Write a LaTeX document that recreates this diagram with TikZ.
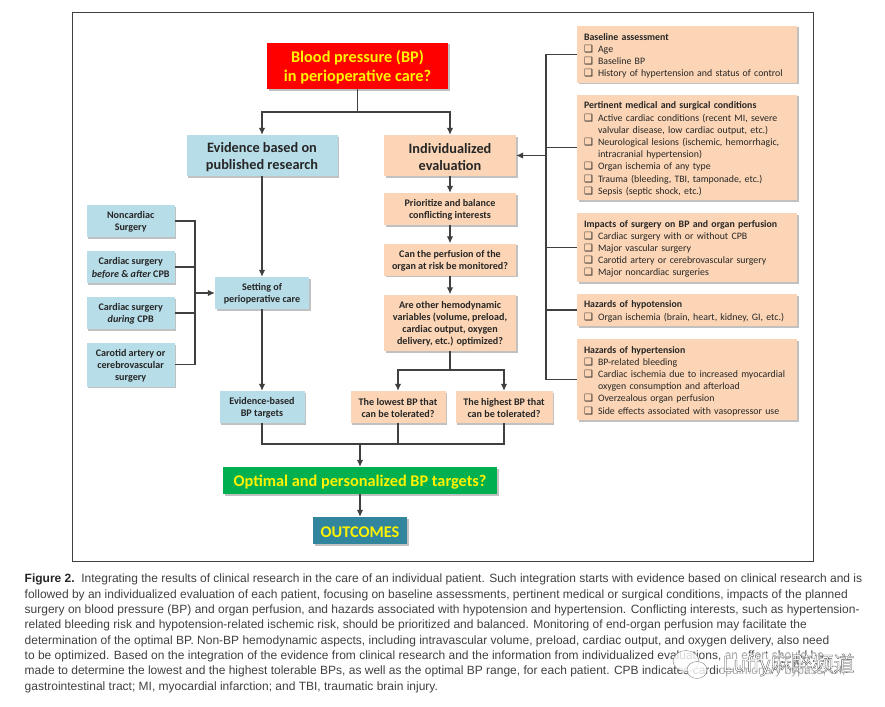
\documentclass[tikz,border=0pt]{standalone}
\usepackage{fontspec}
\setmainfont{Carlito}
\newfontfamily\notefont{Liberation Sans}
\newfontfamily\boxfont{DejaVu Sans}
\newfontfamily\cjkfont{Noto Sans CJK SC}
\usetikzlibrary{shadows,arrows.meta}
\definecolor{paleblue}{HTML}{B7DDE8}
\definecolor{paleorange}{HTML}{FBD5B5}
\definecolor{linegrey}{HTML}{404040}
\definecolor{inkgrey}{HTML}{262626}
\definecolor{leafgreen}{HTML}{00B050}
\definecolor{tealbox}{HTML}{31859C}
\newcommand{\itm}[1]{\makebox[14pt][l]{{\boxfont\fontsize{10}{12}\selectfont ❑}}#1}
\newcommand{\cnt}[1]{\makebox[14pt][l]{}#1}
\tikzset{
  box/.style={align=flush center,inner sep=0pt,text=inkgrey,
    execute at begin node={\rule{0pt}{.9em}},
    drop shadow={shadow xshift=1.5pt,shadow yshift=-1.5pt,opacity=.35,fill=black!70}},
  boxw/.style={minimum width=#1,text width=#1},
  bluebox/.style={box,fill=paleblue},
  orangebox/.style={box,fill=paleorange},
  smalltxt/.style={font=\bfseries\fontsize{10.1}{12.2}\selectfont},
  bigtxt/.style={font=\bfseries\fontsize{14.3}{17}\selectfont},
  yellowtxt/.style={text=yellow,font=\bfseries\fontsize{16.3}{19.5}\selectfont},
  listbox/.style={orangebox,align=left,minimum width=220pt,text width=206pt,
    execute at begin node={\rule{0pt}{1em}},
    font=\fontsize{9.85}{12.2}\selectfont},
  conn/.style={draw=linegrey,line width=1.15pt},
  arr/.style={conn,-{Latex[length=7pt,width=6.5pt]}},
}
\begin{document}
\begin{tikzpicture}[x=1pt,y=-1pt]
\useasboundingbox (0,0) rectangle (885,706);

% frame
\draw[line width=1pt,draw=linegrey] (72.5,13) rectangle (813,561);

% middle column
\node[box,fill=red,yellowtxt,boxw=181pt,minimum height=46.5pt] (bp) at (357.5,66) {Blood pressure (BP)\\in perioperative care?};
\node[bluebox,bigtxt,boxw=151pt,minimum height=41pt] (evid) at (262,155.5) {Evidence based on\\published research};
\node[orangebox,bigtxt,boxw=132pt,minimum height=41pt] (indiv) at (450,155.5) {Individualized\\evaluation};
\node[orangebox,smalltxt,boxw=132pt,minimum height=32pt] (prior) at (450,209) {Prioritize and balance\\conflicting interests};
\node[orangebox,smalltxt,boxw=132pt,minimum height=32pt] (monit) at (450,259.5) {Can the perfusion of the\\organ at risk be monitored?};
\node[orangebox,smalltxt,boxw=132pt,minimum height=56.5pt] (hemo) at (450,322.75) {Are other hemodynamic\\variables (volume, preload,\\cardiac output, oxygen\\delivery, etc.) optimized?};
\node[orangebox,smalltxt,boxw=95pt,minimum height=32pt] (lowbp) at (398,407) {The lowest BP that\\can be tolerated?};
\node[orangebox,smalltxt,boxw=97pt,minimum height=32pt] (highbp) at (504,407) {The highest BP that\\can be tolerated?};

% left column
\node[bluebox,smalltxt,boxw=88pt,minimum height=32pt] (noncard) at (130.7,221) {Noncardiac\\Surgery};
\node[bluebox,smalltxt,boxw=88pt,minimum height=32pt] (before) at (130.7,267) {Cardiac surgery\\\textit{before} \& \textit{after} CPB};
\node[bluebox,smalltxt,boxw=88pt,minimum height=32pt] (during) at (130.7,313) {Cardiac surgery\\\textit{during} CPB};
\node[bluebox,smalltxt,boxw=88pt,minimum height=43.7pt] (carotid) at (130.7,364.85) {Carotid artery or\\cerebrovascular\\surgery};
\node[bluebox,smalltxt,boxw=94pt,minimum height=32pt] (setting) at (262,293) {Setting of\\perioperative care};
\node[bluebox,smalltxt,boxw=85pt,minimum height=32pt] (ebt) at (262,407) {Evidence-based\\BP targets};

% bottom
\node[box,fill=leafgreen,yellowtxt,boxw=274pt,minimum height=27pt] (optim) at (360,480.5) {Optimal and personalized BP targets?};
\node[box,fill=tealbox,yellowtxt,boxw=94pt,minimum height=27pt] (outc) at (360,530.5) {OUTCOMES};

% right column
\node[listbox,minimum height=56.7pt] (base) at (687,54.35) {\textbf{Baseline assessment}\\
\itm{Age}\\
\itm{Baseline BP}\\
\itm{History of hypertension and status of control}};
\node[listbox,minimum height=105pt] (pert) at (687,147.5) {\textbf{Pertinent medical and surgical conditions}\\
\itm{Active cardiac conditions (recent MI, severe}\\
\cnt{valvular disease, low cardiac output, etc.)}\\
\itm{Neurological lesions (ischemic, hemorrhagic,}\\
\cnt{intracranial hypertension)}\\
\itm{Organ ischemia of any type}\\
\itm{Trauma (bleeding, TBI, tamponade, etc.)}\\
\itm{Sepsis (septic shock, etc.)}};
\node[listbox,minimum height=69pt] (impact) at (687,247.5) {\textbf{Impacts of surgery on BP and organ perfusion}\\
\itm{Cardiac surgery with or without CPB}\\
\itm{Major vascular surgery}\\
\itm{Carotid artery or cerebrovascular surgery}\\
\itm{Major noncardiac surgeries}};
\node[listbox,minimum height=32pt] (hypo) at (687,310) {\textbf{Hazards of hypotension}\\
\itm{Organ ischemia (brain, heart, kidney, GI, etc.)}};
\node[listbox,minimum height=81pt] (hyper) at (687,379.5) {\textbf{Hazards of hypertension}\\
\itm{BP-related bleeding}\\
\itm{Cardiac ischemia due to increased myocardial}\\
\cnt{oxygen consumption and afterload}\\
\itm{Overzealous organ perfusion}\\
\itm{Side effects associated with vasopressor use}};

% junctions
\coordinate (topsplit) at (357.5,112);
\coordinate (leftbus) at (195,293);
\coordinate (rightbus) at (546,155.5);
\coordinate (hemosplit) at (450,370);
\coordinate (merge) at (360,444);

% connectors
\draw[conn] (bp) -- (topsplit);
\draw[arr] (topsplit) -| (evid.north);
\draw[arr] (topsplit) -| (indiv.north);
\draw[arr] (evid) -- (setting);
\draw[arr] (setting) -- (ebt);
\draw[arr] (indiv) -- (prior);
\draw[arr] (prior) -- (monit);
\draw[arr] (monit) -- (hemo);
\draw[conn] (hemo) -- (hemosplit);
\draw[arr] (hemosplit) -| (lowbp.north);
\draw[arr] (hemosplit) -| (highbp.north);
\draw[conn] (noncard.east) -| (leftbus);
\draw[conn] (before.east) -| (leftbus);
\draw[conn] (during.east) -| (leftbus);
\draw[conn] (carotid.east) -| (leftbus);
\draw[arr] (leftbus) -- (setting.west);
\draw[conn] (base.west) -| (rightbus);
\draw[conn] (pert.west) -| (rightbus);
\draw[conn] (impact.west) -| (rightbus);
\draw[conn] (hypo.west) -| (rightbus);
\draw[conn] (hyper.west) -| (rightbus);
\draw[arr] (rightbus) -- (indiv.east);
\draw[conn] (ebt.south) |- (merge);
\draw[conn] (lowbp.south) |- (merge);
\draw[conn] (highbp.south) |- (merge);
\draw[arr] (merge) -- (optim.north);
\draw[arr] (optim) -- (outc);

% caption
\node[anchor=north west,align=left,inner sep=0pt,text=linegrey,font=\notefont\fontsize{12}{15.3}\selectfont] (note) at (24.5,574) {\textbf{\color{inkgrey}Figure 2.}\ \ Integrating the results of clinical research in the care of an individual patient. Such integration starts with evidence based on clinical research and is\\
followed by an individualized evaluation of each patient, focusing on baseline assessments, pertinent medical or surgical conditions, impacts of the planned\\
surgery on blood pressure (BP) and organ perfusion, and hazards associated with hypotension and hypertension. Conflicting interests, such as hypertension-\\
related bleeding risk and hypotension-related ischemic risk, should be prioritized and balanced. Monitoring of end-organ perfusion may facilitate the\\
determination of the optimal BP. Non-BP hemodynamic aspects, including intravascular volume, preload, cardiac output, and oxygen delivery, also need\\
to be optimized. Based on the integration of the evidence from clinical research and the information from individualized evaluations, an effort should be\\
made to determine the lowest and the highest tolerable BPs, as well as the optimal BP range, for each patient. CPB indicates cardiopulmonary bypass; GI,\\
gastrointestinal tract; MI, myocardial infarction; and TBI, traumatic brain injury.};

% watermark
\fill[white,opacity=.55] (720,653) rectangle (860,679);
\draw[draw=gray,fill=white,fill opacity=.8,line width=.4pt] (686,661) ellipse (13 and 10.5);
\draw[draw=gray,fill=white,fill opacity=.8,line width=.4pt] (697,670) ellipse (10 and 8.5);
\node[anchor=west,inner sep=0pt,text=white,font=\cjkfont\fontsize{21}{24}\selectfont] (mark) at (722,665) {\special{pdf:code 2 Tr 0.3 w 0.3 G 1 g}Luffy麻醉频道\special{pdf:code 0 Tr}};
\end{tikzpicture}
\end{document}
